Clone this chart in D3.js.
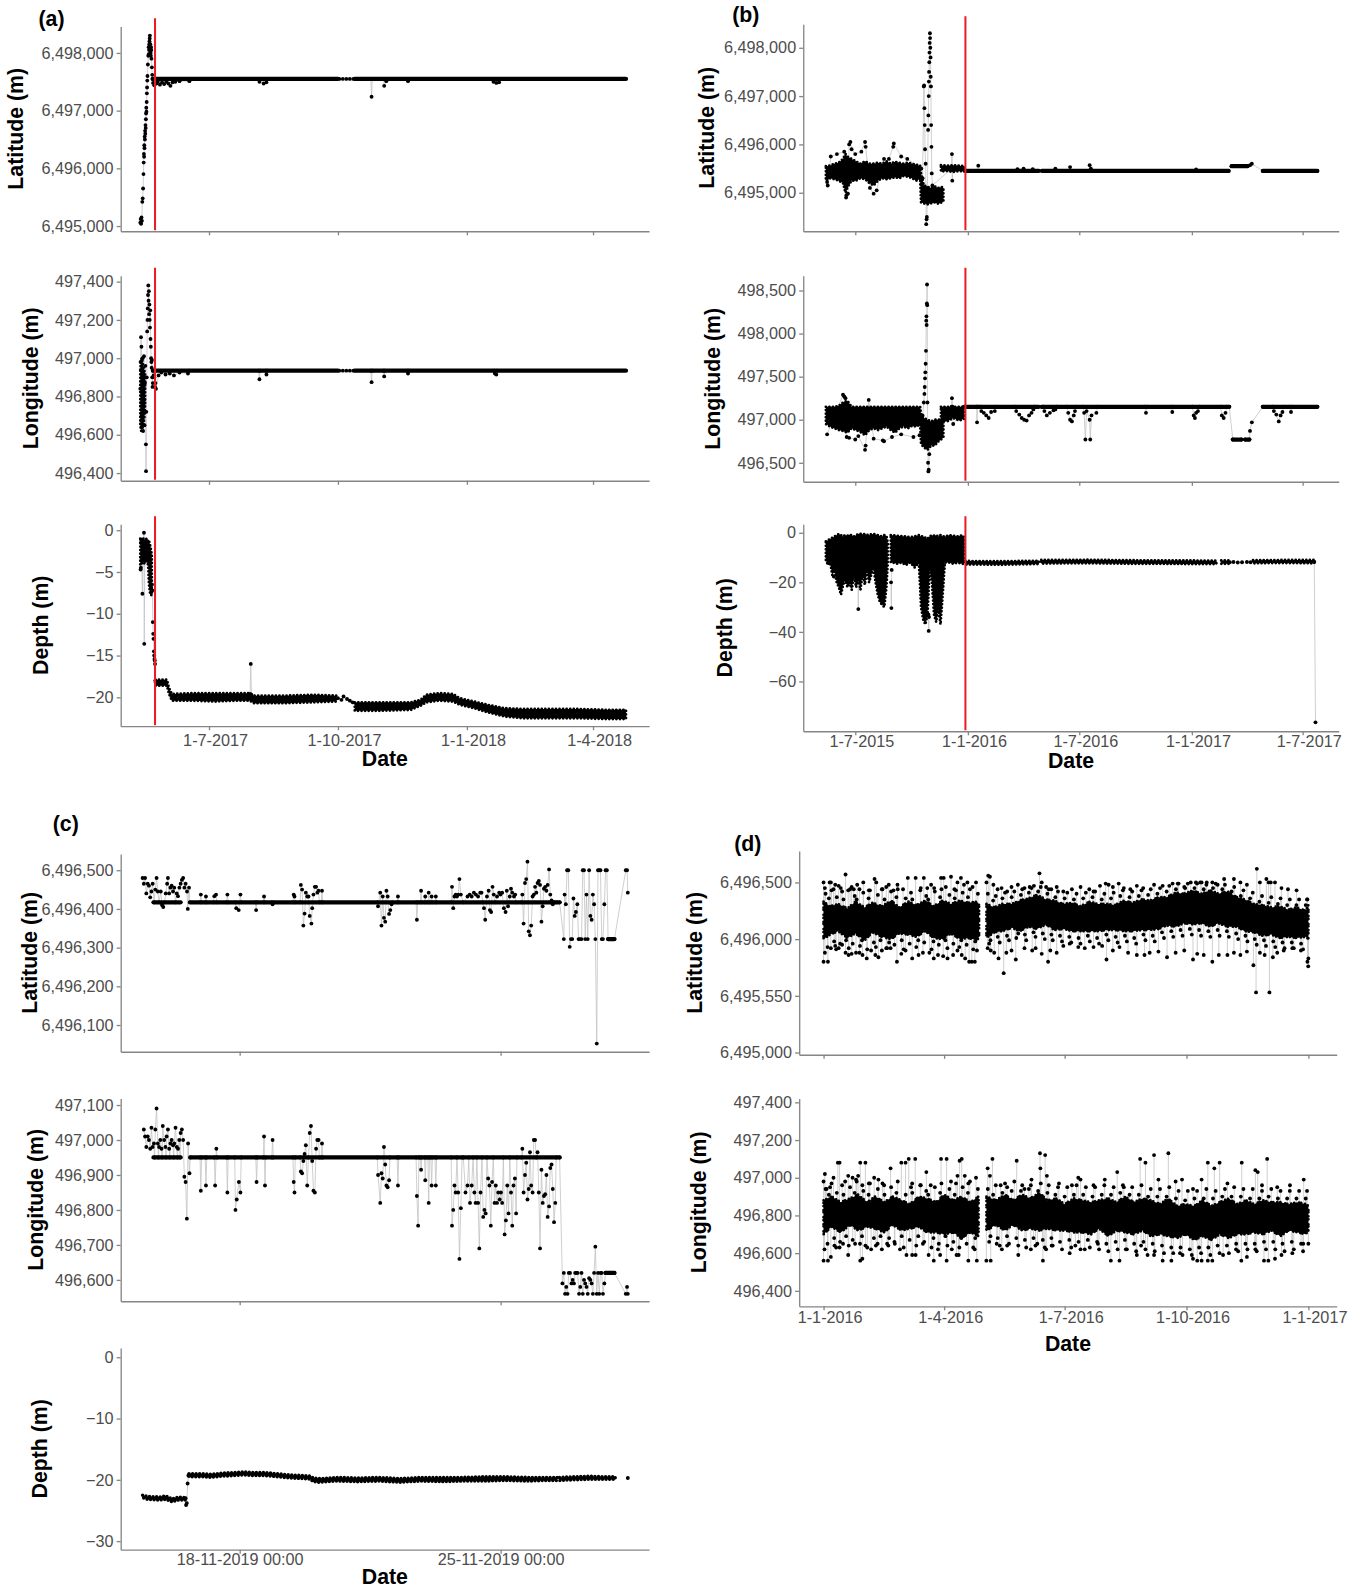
<!DOCTYPE html>
<html>
<head>
<meta charset="utf-8">
<script src="https://cdn.jsdelivr.net/npm/d3@7"></script>
<style>
  body { margin: 0; background: #fff; }
  svg { display: block; }
</style>
</head>
<body>
<script>
const W = 1352, H = 1589;
const DAY = 864e5, HOUR = 36e5;
const FONT = '"Liberation Sans", Arial, Helvetica, sans-serif';
const AXIS = '#858585';
const TICK_TEXT = '#4d4d4d';
const LINE_GREY = '#c4c4c4';
const RED = '#ec1c24';
const LAYOUT_SCALE = 1.0142;

// ---------- panel (a): days since 1 May 2017 ----------
const A_BASE = '2017-05-01T00:00:00';
const A_XDOM = [-2, 375];
const A_TICKS = ['2017-07-01T00:00:00', '2017-10-01T00:00:00', '2018-01-01T00:00:00', '2018-04-01T00:00:00'];
const A_TICK_LABELS = ['1-7-2017', '1-10-2017', '1-1-2018', '1-4-2018'];
const A_RED = 22.5;

const aLatTrack = [
  [12.0,6495060],[12.28,6495120],[12.57,6495040],[12.85,6495150],[13.14,6495090],[13.42,6495420],[13.7,6495480],
  [13.99,6495650],[14.27,6495900],[14.41,6496100],[14.56,6496250],[14.7,6496200],[14.84,6496400],[14.98,6496350],
  [15.12,6496550],[15.27,6496500],[15.41,6496650],[15.55,6496600],[15.69,6496750],[15.83,6496700],[15.98,6496850],
  [16.12,6496950],[16.26,6497050],[16.4,6496980],[16.54,6497150],[16.69,6497300],[16.83,6497400],[16.97,6497520],
  [17.11,6497600],[17.4,6497800],[17.68,6497950],[17.96,6498100],[18.0,6497980],[18.25,6498050],[18.4,6498150],
  [18.53,6498200],[18.7,6498250],[18.82,6498300],[19.1,6498150],[19.2,6498050],[19.38,6498000],[19.5,6497950],
  [19.67,6498100],[19.8,6498050],[19.95,6497900],[20.24,6497750],[20.52,6497620],[20.8,6497550],[21.09,6497480],
  [21.37,6497550],[21.94,6497440],[22.51,6497500],
  [23.5,6497470],[24.5,6497500],[26,6497450],[27.5,6497490],[29,6497460],[30.5,6497500],[32,6497470],[33.5,6497430],
  [35,6497490],[37,6497500],[40,6497510],[47,6497510],[48,6497550],
  [96.5,6497550],[97,6497500],[100,6497470],[102,6497490],[102.5,6497550],
  [154,6497550],[156.5,6497550],[159,6497550],[161.5,6497550],[164,6497550],
  [176.5,6497550],[177,6497240],[177.5,6497550],
  [185.5,6497550],[186,6497430],[187.5,6497510],[188,6497550],
  [202.5,6497550],[203,6497510],[203.5,6497550],
  [263.5,6497550],[264,6497500],[266,6497480],[268,6497490],[268.5,6497550]
];
const aLatFlat = [[20.8, 153, 6497550], [165, 358.5, 6497550]];

const aLonTrack = [
  [12.0,496840],[12.2,496980],[12.5,497110],[12.8,497060],[13.0,496700],[13.3,496900],[13.6,497000],[14.0,496620],
  [14.3,496780],[14.6,497010],[15.0,496650],[15.3,496870],[15.6,496960],[16.0,496550],[16.1,496410],[16.3,496720],
  [16.6,496900],[16.9,497140],[17.1,497200],[17.3,497260],[17.5,497330],[17.7,497380],[17.9,497300],[18.1,497350],
  [18.3,497230],[18.5,497280],[18.7,497200],[18.9,497160],[19.1,497250],[19.3,497100],[19.5,497060],[19.7,497000],
  [19.9,496980],[20.1,496950],[20.3,496990],[20.5,496900],[20.7,496850],[20.9,496870],[21.1,496935],[21.5,496910],
  [22,496900],[22.5,496850],[22.8,496870],[23.2,496840],[25,496910],[27,496925],[30,496915],[33,496920],[36,496910],
  [40,496925],[46,496920],[47,496935],
  [96.5,496935],[97,496890],[97.5,496935],[101.5,496935],[102,496915],[102.5,496935],
  [154,496935],[156.5,496935],[159,496935],[161.5,496935],[164,496935],
  [176.5,496935],[177,496875],[177.5,496935],[185.5,496935],[186,496905],[186.5,496935],
  [202.5,496935],[203,496920],[203.5,496935],[264.5,496935],[265,496920],[266,496915],[266.5,496935]
];
const aLonBand = [[12.0,496650,496940],[12.6,496620,496990],[13.2,496630,497000],[13.8,496640,496970],
  [14.4,496660,496950],[15.0,496700,496930],[15.4,496760,496920]];
const aLonFlat = [[21, 153, 496935], [165, 358.5, 496935]];

const aDepthTrack = [
  [12.2,-4.7],[12.4,-4.5],[12.6,-1.5],[13.5,-7.6],[13.8,-2.5],[14.6,-0.3],[14.8,-13.6],[15.2,-3.0],[16.5,-2.0],
  [17.0,-1.3],[18.5,-4.0],[19.5,-6.8],[20.0,-7.4],[20.3,-6.5],[20.6,-7.2],[20.9,-11.0],[21.2,-12.4],[21.4,-13.0],
  [21.7,-14.5],[21.9,-15.0],[22.1,-15.4],[22.3,-15.6],[22.5,-16.0],[22.7,-18.0],[23,-18.2], null,
  [90.3,-19.6],[90.8,-16.0],[91.3,-19.7], null,
  [153,-20.1],[155.5,-20.3],[157,-19.9],[159.5,-20.2],[161.5,-20.4],[163.5,-20.6]
];
const aDepthBand = [
  [12.0,-4.2,-1.0],[13.0,-4.0,-0.9],[14.0,-3.8,-1.0],[15.0,-4.0,-1.1],[16.0,-3.7,-1.0],[17.0,-3.9,-1.2],
  [17.6,-4.2,-1.5],[18.2,-6.5,-1.3],[19.0,-7.6,-1.8],[19.8,-7.8,-2.5],[20.2,-7.0,-3.0], null,
  [22.8,-18.6,-17.9],[31,-18.6,-17.9],[32.5,-19.6,-18.9],[34.5,-20.4,-19.6],[50,-20.4,-19.5],[65,-20.5,-19.5],
  [80,-20.4,-19.5],[90,-20.4,-19.5],[93,-20.7,-19.8],[115,-20.7,-19.8],[135,-20.6,-19.7],[152,-20.5,-19.8], null,
  [165,-21.6,-20.6],[185,-21.6,-20.6],[205,-21.5,-20.6],[212,-21.0,-20.3],[216,-20.6,-19.7],[225,-20.4,-19.5],
  [235,-20.5,-19.6],[240,-20.9,-20.1],[250,-21.3,-20.5],[260,-21.8,-20.9],[272,-22.3,-21.3],[285,-22.5,-21.4],
  [305,-22.5,-21.4],[325,-22.5,-21.4],[345,-22.6,-21.5],[358.5,-22.6,-21.5]
];

// ---------- panel (b): days since 1 July 2015 ----------
const B_BASE = '2015-07-01T00:00:00';
const B_XDOM = [-85, 790];
const B_TICKS = ['2015-07-01T00:00:00', '2016-01-01T00:00:00', '2016-07-01T00:00:00', '2017-01-01T00:00:00', '2017-07-01T00:00:00'];
const B_TICK_LABELS = ['1-7-2015', '1-1-2016', '1-7-2016', '1-1-2017', '1-7-2017'];
const B_RED = 180;

const bLatBand = [
  [-48,6495250,6495550],[-41,6495300,6495560],[-34,6495280,6495600],[-27,6495250,6495620],[-20,6495200,6495700],
  [-16,6495000,6495800],[-13,6495100,6495750],[-6,6495250,6495700],[1,6495250,6495650],[8,6495300,6495600],
  [16,6495280,6495650],[23,6495200,6495600],[30,6495150,6495600],[37,6495250,6495620],[44,6495300,6495600],
  [51,6495280,6495650],[58,6495300,6495600],[65,6495320,6495640],[72,6495300,6495620],[79,6495350,6495600],
  [86,6495330,6495620],[93,6495300,6495600],[100,6495250,6495580],[106,6495300,6495560],
  [107.5,6494800,6495400],[112,6494780,6495150],[118,6494760,6495120],[124,6494780,6495100],[130,6494800,6495130],
  [136,6494770,6495100],[141,6494800,6495120],[144,6494820,6495100], null,
  [140,6495440,6495570],[150,6495450,6495560],[160,6495430,6495570],[170,6495450,6495560],[178,6495440,6495550]
];
const bLatTrack = [
  [-46,6495220],[-45,6495150],[-40,6495750],[-30,6495800],[-18,6495850],[-15,6494900],[-14.5,6494950],[-12,6494980],
  [-10,6496000],[-8,6496050],[-6,6495900],[0,6495800],[10,6495850],[16,6496050],[17,6495950],[24,6495100],
  [30,6494980],[35,6495050],[47,6495700],[55,6495700],[62,6495950],[63,6496020],[75,6495750],[85,6495700],
  [108,6495500],[110,6495300],[112,6497200],[112.5,6497220],[113,6496750],[113.5,6496400],[114,6495900],[115,6495600],
  [116,6494350],[116.5,6494450],[117,6494500],[118,6495100],[119,6496300],[119.5,6496600],[120,6497000],[120.3,6497300],
  [120.6,6497500],[121,6497700],[121.3,6497900],[121.6,6498100],[122,6498300],[122.3,6498200],[122.6,6498000],
  [123,6497800],[123.3,6497400],[123.6,6497200],[124,6496400],[124.5,6495950],[125,6495400],[126,6495150],
  [157.5,6495500],[158,6495800],[158.5,6495250],[159,6495500],
  [180,6495450],[200.5,6495450],[201,6495560],[201.5,6495450],[264.5,6495450],[265,6495490],[265.5,6495450],
  [274.5,6495450],[275,6495500],[275.5,6495450],[289.5,6495450],[290,6495490],[290.5,6495450],
  [326.5,6495450],[327,6495500],[327.5,6495450],[350.5,6495450],[351,6495530],[351.5,6495450],
  [382.5,6495450],[383,6495570],[385,6495500],[385.5,6495450],[556.5,6495450],[557,6495480],[557.5,6495450],
  [610,6495450],[615,6495550],[641,6495550],[645,6495570],[648,6495600],[666,6495450],[755,6495450]
];
const bLatFlat = [[180, 300, 6495450], [305, 610, 6495450], [615, 641, 6495550], [666, 755, 6495450]];

const bLonBand = [
  [-48,496950,497150],[-41,496920,497150],[-34,496900,497150],[-27,496880,497160],[-20,496870,497200],
  [-13,496850,497220],[-6,496900,497150],[1,496880,497150],[8,496860,497150],[16,496820,497150],[23,496880,497150],
  [30,496900,497150],[37,496880,497150],[44,496900,497150],[51,496920,497150],[58,496880,497150],[65,496850,497150],
  [72,496900,497150],[79,496920,497150],[86,496900,497150],[93,496930,497150],[100,496920,497150],[106,496950,497150],
  [107.5,496720,497050],[112,496680,497020],[118,496650,497000],[124,496700,496980],[130,496700,497000],
  [136,496750,497000],[142,496780,497000],[144,496800,497000], null,
  [140,497000,497150],[150,496980,497150],[160,497020,497150],[170,496990,497150],[178,497010,497150]
];
const bLonTrack = [
  [-46,496830],[-20,497290],[-18,497270],[-16,497250],[-14,496800],[-10,496790],[0,496770],[5,496810],[16,496650],
  [17,496700],[22,497230],[30,496780],[45,496760],[47,496750],[60,496800],[75,496830],[95,496800],[105,496820],
  [110,497050],[112,497200],[113,497300],[113.5,497380],[114,497480],[114.5,497550],[115,497650],[115.5,497800],
  [116,498150],[116.3,498200],[116.6,498100],[117,498350],[117.3,498570],[117.6,498330],[118,497200],[118.5,496900],
  [119,496500],[119.5,496400],[120,496420],[121,496600],[122,496800],
  [157.5,497150],[158,497250],[159,497150],[160,496950],
  [178,497150],[198.5,497150],[199,496970],[199.5,497150],
  [204,497150],[206,497100],[210,497080],[214,497050],[218,497020],[222,497090],[228,497100],[230,497150],
  [261,497150],[263,497100],[268,497060],[272,497020],[276,497000],[280,496990],[284,497050],[288,497080],[291,497120],[293,497150],
  [307,497150],[309,497100],[313,497050],[318,497080],[324,497110],[327,497120],[329,497150],
  [346,497150],[348,497080],[351,497000],[354,496980],[357,497050],[359,497100],[361,497150],
  [372,497150],[374,497080],[376,496770],[378,497100],[383,497000],[384,496770],[386,497050],[394,497080],[396,497150],
  [473,497150],[475,497080],[477,497150],[516,497150],[518,497090],[520,497150],
  [551,497150],[553,497050],[555,497020],[557,497080],[560,497100],[562,497150],
  [597,497150],[599,497050],[602,497020],[605,497080],[607,497150],
  [611,497150],[617,496770],[631,496770],[637,496770],[644,496770],[645,496870],[648,496970],[666,497150],
  [682,497150],[684,497100],[688,497060],[692,496980],[695,497050],[698,497090],[700,497150],
  [710,497150],[712,497090],[714,497150],[755,497150]
];
const bLonFlat = [[178, 300, 497150], [304, 611, 497150], [617, 631, 496770], [637, 644, 496770], [666, 755, 497150]];

const bDepthBand = [
  [-48,-11,-3.5],[-44.6,-13,-3],[-41,-12,-2.5],[-37.5,-17,-2],[-34,-15,-1.5],[-30.4,-20,-1],[-26.9,-22,-0.5],
  [-23.3,-25,-1],[-19.8,-21,-1.5],[-16.3,-19,-1],[-12.7,-22,-1.2],[-9.2,-20,-0.8],[-5.7,-23,-1],[-2.1,-17,-1.5],
  [1.4,-22,-1],[5,-19,-0.5],[8.5,-23,-0.4],[12,-16,-0.6],[15.6,-21,-0.5],[19.1,-15,-0.8],[22.6,-20,-1],
  [26.2,-17,-0.6],[29.7,-14,-0.5],[33.2,-20,-0.7],[36.8,-25,-1],[40.3,-28,-1.2],[43.8,-29,-1.5],[47.4,-30,-1],
  [50.9,-22,-1.3],[53,-12.5,-4], null,
  [58,-12,-1],[61.5,-12,-1],[68.6,-12.5,-1.2],[75.7,-12,-1.4],[82.7,-13,-1.5],[89.8,-12,-1.8],[96.9,-14,-1.5],
  [104,-12,-1],[107.5,-30,-1.5],[111,-35,-1.5],[114.6,-37,-2],[118.1,-33,-2.5],[121.6,-14,-1.5],[125.2,-20,-1],
  [128.7,-33,-1.2],[132.2,-36,-1],[135.8,-30,-1.5],[139.3,-37,-1],[142.9,-25,-1.5],[146.4,-12,-1.5],
  [153.5,-12,-1],[160.5,-12.5,-1.2],[167.6,-12,-1.5],[174.7,-12.5,-1],[178.2,-12.5,-2], null,
  [180,-12.8,-11.4],[240,-12.9,-11.5],[300,-12.6,-11.3], null,
  [304,-12.4,-11.0],[380,-12.3,-10.9],[450,-12.5,-11.1],[550,-12.6,-11.2],[590,-12.6,-11.3], null,
  [598,-12.5,-11.2],[610,-12.5,-11.2], null,
  [650,-12.3,-11.1],[700,-12.2,-11.0],[750,-12.3,-11.0]
];
const bDepthTrack = [
  [-36,-12],[-35,-17.7],[-34,-12], null,
  [4.5,-19],[5,-30.8],[5.5,-18], null,
  [58.5,-20],[59,-30.4],[59.5,-15], null,
  [119.5,-33],[120,-39.6],[120.5,-34], null,
  [612,-11.9],[618,-11.8],[625,-12.0],[632,-11.9],[640,-11.8],[646,-11.9], null,
  [750,-11.7],[752,-76.5]
];

// ---------- panel (c): hours since 15 Nov 2019 00:00 ----------
const C_BASE = '2019-11-15T00:00:00';
const C_XDOM = [-4.6, 335.6];
const C_TICKS = ['2019-11-18T00:00:00', '2019-11-25T00:00:00'];
const C_TICK_LABELS = ['18-11-2019 00:00', '25-11-2019 00:00'];

const cLatTrack = [
  [9.5,6496480],[10.3,6496465],[11.1,6496480],[11.9,6496440],[12.8,6496465],[13.6,6496460],[14.4,6496430],
  [15.2,6496445],[16.0,6496465],[16.9,6496417],[17.7,6496450],[18.5,6496480],[19.3,6496445],[20.1,6496417],
  [21.2,6496445],[22.0,6496410],[22.8,6496405],[23.6,6496417],[24.4,6496440],[25.3,6496465],[25.8,6496480],
  [26.6,6496440],[27.4,6496455],[28.2,6496460],[29.1,6496445],[29.9,6496455],[30.7,6496417],[31.5,6496440],
  [32.3,6496433],[33.2,6496455],[34.0,6496465],[34.8,6496475],[35.6,6496480],[36.4,6496455],[37.2,6496465],
  [38.1,6496445],[38.6,6496400],[39.4,6496455],[40.0,6496417],
  [46.5,6496417],[47.0,6496437],[47.5,6496417],[49.8,6496417],[50.3,6496432],[50.8,6496417],
  [55.2,6496417],[55.7,6496433],[56.8,6496437],[57.3,6496417],[63.6,6496417],[64.1,6496437],[64.6,6496417],
  [69.3,6496417],[69.8,6496402],[71.4,6496397],[72.5,6496437],[73.0,6496417],
  [82.1,6496417],[82.6,6496397],[83.1,6496417],[87.2,6496417],[87.7,6496432],[88.2,6496417],
  [92.7,6496417],[93.2,6496412],[93.7,6496417],[106.3,6496417],[106.8,6496437],[107.3,6496432],[107.8,6496417],
  [110.9,6496417],[111.4,6496462],[112.2,6496450],[113.0,6496357],[113.8,6496388],[114.6,6496442],[115.5,6496432],
  [116.3,6496432],[117.1,6496382],[118.2,6496362],[118.7,6496402],[119.5,6496437],[120.4,6496457],[121.2,6496457],
  [122.0,6496442],[122.8,6496447],[123.3,6496417],[124.5,6496417],[125.0,6496447],[125.5,6496417],
  [160.6,6496417],[161.1,6496407],[162.5,6496442],[163.3,6496357],[164.1,6496432],[164.9,6496377],[165.7,6496367],
  [166.5,6496447],[167.3,6496432],[168.2,6496387],[169.0,6496397],[169.8,6496412],[170.3,6496417],
  [173.4,6496417],[173.9,6496432],[174.4,6496417],[185.6,6496417],[186.1,6496372],[186.6,6496417],
  [188.3,6496417],[188.8,6496447],[189.3,6496417],[191.0,6496417],[191.5,6496432],[192.0,6496417],
  [193.2,6496417],[193.7,6496442],[194.2,6496417],[195.1,6496417],[195.6,6496432],[196.1,6496417],
  [197.8,6496417],[198.3,6496432],[198.8,6496417],
  [208.2,6496417],[208.7,6496457],[209.5,6496402],[210.3,6496432],[211.1,6496437],[211.9,6496432],[212.7,6496437],
  [213.5,6496477],[214.4,6496437],[216.0,6496417],[218.7,6496432],[220.1,6496437],[221.4,6496432],[222.8,6496442],
  [224.1,6496437],[225.5,6496432],[226.9,6496442],[227.7,6496442],[228.5,6496417],[229.3,6496402],[230.1,6496372],
  [231.2,6496432],[232.3,6496447],[233.1,6496397],[233.9,6496392],[234.8,6496457],[235.6,6496437],[236.4,6496417],
  [237.7,6496432],[239.1,6496442],[239.9,6496437],[241.0,6496442],[242.1,6496402],[243.2,6496392],[244.0,6496447],
  [244.8,6496407],[245.9,6496432],[246.7,6496452],[247.5,6496442],[248.6,6496432],[249.4,6496437],[249.9,6496417],
  [253.5,6496417],[254.0,6496437],[254.8,6496362],[255.7,6496467],[256.5,6496477],[257.3,6496522],[258.1,6496342],
  [258.9,6496332],[259.7,6496357],[260.6,6496432],[261.4,6496437],[262.2,6496457],[263.0,6496442],[263.8,6496467],
  [264.6,6496472],[265.4,6496462],[266.3,6496367],[267.1,6496407],[267.9,6496452],[268.7,6496457],[269.5,6496447],
  [270.3,6496462],[271.2,6496502],[272.0,6496437],[272.8,6496422],[273.6,6496412],[274.4,6496417],[275.8,6496417],
  [278.0,6496417],
  [280.7,6496322],[281.2,6496437],[282.0,6496412],[282.8,6496500],[283.6,6496500],[284.5,6496302],[285.3,6496322],
  [286.1,6496322],[286.9,6496427],[287.7,6496382],[288.5,6496392],[289.4,6496412],[290.2,6496322],[291.0,6496322],
  [292.1,6496322],[292.9,6496500],[293.7,6496500],[294.5,6496322],[295.3,6496437],[296.1,6496322],[297.0,6496500],
  [297.8,6496382],[298.6,6496372],[299.4,6496437],[300.2,6496412],[301.0,6496322],[301.9,6496052],[302.7,6496500],
  [303.5,6496500],[304.3,6496500],[305.1,6496322],[305.9,6496322],[306.8,6496412],[307.6,6496500],[308.4,6496500],
  [309.2,6496322],[310.0,6496322],[310.8,6496322],[311.7,6496322],[312.5,6496322],[313.3,6496322],
  [320.6,6496500],[321.4,6496500],[321.9,6496442]
];
const cLatFlat = [[16.5, 34, 6496417], [40, 278, 6496417], [309.2, 313.3, 6496322]];

const cLonTrack = [
  [10.3,497030],[11.1,497010],[11.9,496980],[12.8,497010],[13.6,497000],[14.4,496975],[15.2,497035],[16.0,496980],
  [16.8,496990],[17.2,496950],[17.7,497030],[18.5,497090],[19.3,496990],[19.7,496950],[20.1,496980],[20.9,497000],
  [21.7,496975],[22.1,496950],[22.5,497040],[23.4,497000],[24.2,496980],[24.6,496950],[25.0,497010],[25.8,497030],
  [26.6,496975],[27.0,496950],[27.4,496990],[28.2,497000],[29.1,496985],[29.5,496950],[29.9,496990],[30.7,497035],
  [31.5,496980],[31.9,496950],[32.3,496975],[33.1,497000],[33.6,496950],[34.0,497020],[34.8,497030],[35.6,497000],
  [36.4,496895],[37.2,496880],[38.0,496775],[38.8,496990],[39.7,496905],[40.2,496950],
  [46.5,496950],[47.0,496855],[47.5,496950],[49.8,496950],[50.3,496870],[50.8,496950],
  [55.7,496950],[56.2,496870],[57.0,496975],[57.5,496950],[63.6,496950],[64.1,496850],[64.6,496950],
  [68.8,496950],[69.3,496800],[70.1,496830],[71.5,496880],[72.5,496850],[73.0,496950],
  [82.4,496950],[82.9,496880],[83.4,496950],[87.2,496950],[87.7,497010],[88.3,496870],[88.8,496950],
  [92.7,496950],[93.2,497000],[93.7,496950],[106.3,496950],[106.8,496880],[107.3,496850],[107.8,496950],
  [110.9,496950],[111.4,496910],[112.2,496905],[113.0,496940],[113.8,496960],[114.6,496985],[115.5,496870],
  [116.3,496950],[117.1,497020],[117.9,497040],[118.7,496940],[119.5,496855],[120.4,496850],[121.2,496975],
  [122.0,497000],[122.8,497000],[123.3,496950],[124.5,496950],[125.0,496990],[125.5,496950],
  [160.6,496950],[161.1,496900],[162.5,496820],[163.3,496905],[164.1,496890],[164.9,496980],[165.7,496930],
  [166.5,496870],[167.3,496865],[168.2,496885],[168.7,496950],
  [173.4,496950],[173.9,496870],[174.4,496950],[185.6,496950],[186.1,496840],[186.9,496755],[187.4,496950],
  [188.3,496950],[188.8,496915],[189.3,496950],[191.0,496950],[191.5,496885],[192.0,496950],
  [193.2,496950],[193.7,496820],[194.2,496950],[195.1,496950],[195.6,496870],[196.1,496950],
  [197.8,496950],[198.3,496870],[198.8,496950],
  [208.2,496950],[208.7,496755],[209.5,496800],[210.3,496870],[211.1,496850],[211.9,496950],[212.7,496850],
  [213.5,496660],[214.4,496805],[215.2,496950],[216.0,496950],[217.4,496850],[218.7,496870],[219.5,496950],
  [220.3,496820],[221.4,496870],[222.3,496950],[223.1,496850],[223.9,496820],[224.7,496950],[225.5,496820],
  [226.3,496690],[227.1,496850],[228.0,496950],[228.8,496780],[229.6,496800],[230.4,496790],[231.2,496950],
  [232.0,496890],[232.8,496870],[233.7,496755],[234.5,496880],[235.3,496950],[236.1,496820],[236.9,496870],
  [237.7,496820],[238.5,496850],[239.4,496830],[240.2,496850],[241.0,496820],[241.8,496950],[242.6,496730],
  [243.4,496770],[244.3,496870],[245.1,496790],[245.9,496950],[246.7,496850],[247.5,496755],[248.3,496870],
  [249.2,496890],[250.0,496790],[250.5,496950],
  [253.5,496950],[254.0,496975],[254.8,496850],[255.7,496900],[256.5,496935],[257.3,496830],[258.1,496860],
  [258.9,496965],[259.7,496870],[260.6,496850],[261.4,497000],[262.2,497000],[263.0,496950],[263.8,496965],
  [264.6,496850],[265.4,496690],[266.3,496915],[267.1,496820],[267.9,496840],[268.7,496845],[269.5,496900],
  [270.3,496780],[271.2,496810],[272.0,496920],[272.8,496930],[273.6,496860],[274.4,496765],[275.2,496820],
  [275.8,496950],[278.0,496950],
  [279.8,496590],[280.7,496620],[281.5,496560],[282.3,496580],[283.1,496560],[283.9,496620],[284.7,496620],
  [285.6,496590],[286.4,496600],[287.2,496590],[288.0,496620],[288.8,496620],[289.6,496620],[290.5,496560],
  [291.3,496580],[292.1,496620],[292.9,496560],[293.7,496600],[294.5,496590],[295.3,496580],[296.1,496560],
  [297.0,496605],[297.8,496600],[298.6,496590],[299.4,496560],[300.2,496620],[301.0,496695],[301.9,496560],
  [302.7,496620],[303.5,496560],[304.3,496620],[305.1,496620],[305.9,496560],[306.8,496590],[307.6,496620],
  [308.4,496620],[309.2,496620],[310.0,496620],[310.8,496620],[311.7,496620],[312.5,496620],[313.3,496620],
  [320.6,496560],[321.4,496580],[321.9,496560]
];
const cLonFlat = [[16.5, 34, 496950], [40.2, 278, 496950], [307.6, 313.3, 496620]];

const cDepthBand = [
  [9.5,-22.9,-22.5],[12.8,-23.2,-22.7],[20.4,-23.3,-22.8],[24.4,-23.2,-22.6],[28.5,-23.6,-23.1],[32.6,-23.3,-22.8],
  [36.9,-23.3,-22.9], null,
  [39.4,-19.5,-19.0],[47.5,-19.5,-19.0],[53.0,-19.6,-19.1],[61.1,-19.4,-18.9],[69.3,-19.3,-18.8],[74.7,-19.2,-18.7],
  [80.2,-19.3,-18.8],[88.3,-19.3,-18.8],[96.4,-19.5,-19.0],[104.6,-19.7,-19.2],[112.8,-19.8,-19.3],[117.6,-19.9,-19.4],
  [119.3,-20.3,-19.7],[123.6,-20.4,-19.8],[134.5,-20.2,-19.6],[148.1,-20.3,-19.7],[161.7,-20.2,-19.6],
  [175.2,-20.4,-19.8],[188.8,-20.2,-19.6],[202.4,-20.3,-19.6],[216.0,-20.2,-19.6],[229.6,-20.2,-19.5],
  [243.2,-20.1,-19.5],[256.7,-20.2,-19.6],[270.3,-20.1,-19.6],[276.3,-20.1,-19.6], null,
  [277.9,-20.1,-19.6],[286.6,-20.0,-19.5],[297.5,-19.9,-19.4],[305.7,-19.9,-19.5],[313.8,-19.9,-19.5]
];
const cDepthTrack = [[37.2,-23.0],[37.5,-24.1],[38.0,-23.8],[38.5,-20.6],[39.0,-19.3],[39.4,-19.2], null, [321.9,-19.7]];

// ---------- panel (d): days since 1 Jan 2016 ----------
const D_BASE = '2016-01-01T00:00:00';
const D_XDOM = [-18.4, 387.4];
const D_TICKS = ['2016-01-01T00:00:00', '2016-04-01T00:00:00', '2016-07-01T00:00:00', '2016-10-01T00:00:00', '2017-01-01T00:00:00'];
const D_TICK_LABELS = ['1-1-2016', '1-4-2016', '1-7-2016', '1-10-2016', '1-1-2017'];
const D_LAT_TICKS = [6495000, 6495500, 6496000, 6496500];
const D_LAT_LABELS = ['6,495,000', '6,495,550', '6,496,000', '6,496,500'];

const dLatBand = [
  [0,6496000,6496330],[5,6496040,6496290],[11,6496070,6496310],[18,6496010,6496270],[24,6496050,6496330],
  [31,6495990,6496280],[37,6496060,6496320],[44,6496020,6496290],[51,6496000,6496340],[57,6496050,6496280],
  [64,6496040,6496330],[70,6496020,6496300],[77,6496070,6496340],[83,6496010,6496290],[90,6496000,6496340],
  [96,6496050,6496310],[103,6496000,6496340],[109,6496010,6496320],[116,6495990,6496330],[117.4,6496020,6496300], null,
  [123,6496010,6496310],[129,6496060,6496280],[135,6496070,6496310],[142,6496100,6496310],[148,6496070,6496340],
  [155,6496110,6496360],[161,6496090,6496390],[168,6496130,6496350],[174,6496080,6496340],[181,6496090,6496310],
  [188,6496070,6496320],[194,6496070,6496290],[201,6496070,6496330],[207,6496070,6496310],[214,6496080,6496310],
  [220,6496080,6496300],[227,6496070,6496340],[233,6496070,6496320],[240,6496080,6496350],[246,6496080,6496340],
  [253,6496090,6496370],[259,6496120,6496370],[266,6496110,6496410],[272,6496140,6496400],[279,6496130,6496430],
  [285,6496140,6496400],[292,6496110,6496430],[298,6496140,6496400],[305,6496110,6496420],[312,6496110,6496370],
  [318,6496070,6496350],[325,6496060,6496310],[331,6496030,6496300],[338,6496040,6496280],[344,6496010,6496290],
  [351,6496020,6496260],[357,6496010,6496280],[364,6496020,6496250],[366,6496000,6496300]
];
const dLatHigh = [
  [0,6496500],[1,6496450],[4.6,6496500],[5.5,6496500],[7.5,6496440],[8.8,6496480],[11.4,6496470],[13,6496450],
  [16.6,6496570],[18.6,6496430],[21.2,6496460],[22.8,6496440],[25.4,6496480],[27.1,6496440],[30,6496500],
  [34.2,6496430],[38.5,6496530],[39.8,6496500],[44,6496440],[47.3,6496460],[49.2,6496480],[52.8,6496430],
  [55.8,6496480],[60,6496440],[63.6,6496540],[69.5,6496540],[73.4,6496450],[75.7,6496540],[78.3,6496450],
  [81.2,6496480],[83.5,6496450],[88.7,6496540],[90.7,6496540],[92.3,6496460],[96.2,6496550],[98.8,6496440],
  [101.1,6496500],[103.7,6496540],[106,6496480],[108.6,6496500],[112.5,6496460],[115.1,6496500],
  [123,6496500],[124.3,6496560],[125.6,6496550],[128.2,6496480],[131.4,6496440],[134.4,6496450],[138.6,6496420],
  [141.9,6496460],[146.7,6496480],[151.7,6496450],[155.6,6496460],[158.8,6496470],[163,6496580],[164.7,6496500],
  [168,6496460],[171.9,6496440],[176,6496460],[181,6496420],[187.5,6496440],[194,6496460],[200.6,6496440],
  [203.8,6496420],[208.7,6496470],[213,6496490],[215.2,6496480],[218.4,6496460],[222.8,6496490],[226.7,6496450],
  [231.6,6496440],[236.5,6496470],[241.3,6496450],[249.5,6496480],[256,6496470],[263.5,6496490],[267.4,6496490],
  [272.3,6496460],[277.2,6496500],[281.1,6496500],[284.4,6496500],[285.4,6496500],[289.3,6496500],[293.5,6496500],
  [297.5,6496480],[302.4,6496530],[309.8,6496530],[314.7,6496500],[319.6,6496480],[327.1,6496620],[329.4,6496500],
  [334.3,6496530],[336,6496500],[337.6,6496500],[340.8,6496500],[345.7,6496450],[350.6,6496440],[357.1,6496430],
  [365.3,6496350]
];
const dLatLow = [
  [0,6495800],[1,6495880],[3.3,6495800],[5.5,6495920],[8.8,6495940],[11.4,6495920],[14,6495950],[16.6,6495880],
  [18.9,6495860],[21.2,6495870],[24.5,6495880],[27.1,6495880],[29.4,6495860],[32.6,6495830],[35.9,6495900],
  [39.1,6495860],[41.4,6495840],[44,6495900],[47.3,6495920],[50.6,6495920],[55.4,6495800],[58.7,6495870],
  [61.9,6495900],[66.9,6495830],[71.7,6495860],[75,6495880],[79.9,6495880],[83.2,6495830],[86.4,6495860],
  [90.3,6495850],[93.6,6495830],[97.8,6495860],[101.1,6495900],[104.3,6495860],[106.9,6495830],[109.9,6495800],
  [111.9,6495800],[114.2,6495800],[115.8,6495900],
  [123.9,6495920],[126.2,6495900],[128.8,6495880],[132.1,6495830],[136,6495700],[138,6495880],[141.9,6495900],
  [145.1,6495820],[151.7,6495920],[157.5,6495900],[160.1,6495920],[164.7,6495870],[169.5,6495800],[171.2,6495900],
  [176,6495880],[181,6495940],[185.8,6495960],[192.3,6495930],[197.2,6495920],[203.8,6495930],[210.3,6495940],
  [213.6,6495820],[218.4,6495900],[223.4,6495930],[229.9,6495880],[236.5,6495860],[242.3,6495860],[246.2,6495880],
  [252.8,6495890],[259.3,6495840],[265.8,6495880],[272.3,6495900],[278.9,6495820],[282.1,6495870],[287,6495860],
  [293.5,6495800],[298.4,6495860],[304.9,6495860],[309.8,6495880],[314.7,6495860],[319.6,6495890],[324.5,6495770],
  [326.5,6495530],[329.4,6495880],[333,6495860],[336.6,6495530],[339.2,6495840],[342.5,6495880],[347.4,6495900],
  [353.9,6495920],[360.4,6495900],[365.3,6495800],[365.9,6495760],[366,6495830]
];
const dLatFringe = [
  [1.5,6496400],[3,6495930],[4,6496360],[6,6496430],[8,6495980],[9.5,6495910],[10,6496370],[12.5,6495960],
  [14,6496420],[15,6496350],[17,6495990],[19,6495920],[20,6496440],[22,6495960],[23.5,6496380],[25,6496350],
  [27.5,6495940],[29,6495990],[30,6496410],[33,6495910],[34,6496360],[35,6496430],[38,6495970],[39.5,6495930],
  [41,6496390],[43,6495990],[44.5,6496440],[46,6496350],[48,6495920],[49.5,6495970],[51,6496420],[53.5,6495950],
  [55,6496370],[56,6496440],[59,6495990],[60.5,6495910],[62,6496360],[65,6495960],[66,6496410],[67,6496350],
  [70,6495930],[71.5,6495990],[73,6496430],[76,6495970],[77.5,6496380],[79,6496350],[81.5,6495910],[83,6495980],
  [84,6496420],[87,6495950],[88,6496370],[89,6496440],[92,6495990],[93.5,6495920],[95,6496390],[98,6495960],
  [99,6496360],[100,6496430],[102.5,6495930],[104,6495990],[105,6496410],[108,6495950],[109,6496370],
  [110.5,6496440],[113,6495910],[114.5,6495980],[116.5,6496400],
  [124,6496400],[125,6495960],[126,6495990],[128,6496340],[130,6496380],[131.5,6496020],[133,6495970],
  [135,6496360],[137,6496410],[138.5,6496030],[140,6495990],[142,6496370],[144,6496420],[145.5,6496010],
  [147,6496050],[149,6496390],[150,6496440],[152,6496040],[153,6495990],[155,6496410],[157,6496450],
  [158.5,6496060],[160,6496020],[162,6496420],[164,6496460],[165.5,6496050],[167,6496000],[169,6496400],
  [170,6496440],[172,6496040],[173,6495990],[175,6496370],[177,6496420],[178.5,6496030],[180,6495980],
  [182,6496360],[184,6496410],[185.5,6496020],[187,6495970],[189,6496350],[191,6496400],[192.5,6496010],
  [194,6495960],[196,6496360],[198,6496410],[199.5,6496030],[201,6495980],[203,6496370],[205,6496420],
  [206.5,6496010],[208,6495960],[210,6496350],[212,6496400],[213.5,6496040],[215,6495990],[217,6496360],
  [219,6496410],[220.5,6496020],[222,6495970],[224,6496380],[226,6496430],[227.5,6496030],[229,6495980],
  [231,6496370],[233,6496420],[234.5,6496010],[236,6495960],[238,6496380],[240,6496430],[241.5,6496040],
  [243,6495990],[245,6496390],[247,6496440],[248.5,6496030],[250,6495980],[252,6496400],[254,6496450],
  [255.5,6496060],[257,6496010],[259,6496420],[261,6496470],[262.5,6496070],[264,6496020],[266,6496440],
  [268,6496490],[269.5,6496080],[271,6496030],[273,6496450],[275,6496490],[276.5,6496090],[278,6496040],
  [280,6496450],[282,6496490],[283.5,6496080],[285,6496030],[287,6496440],[289,6496480],[290.5,6496070],
  [292,6496020],[294,6496450],[296,6496490],[297.5,6496080],[299,6496030],[301,6496440],[303,6496480],
  [304.5,6496070],[306,6496020],[308,6496420],[310,6496460],[311.5,6496050],[313,6496000],[315,6496380],
  [317,6496430],[318.5,6496030],[320,6495980],[322,6496360],[324,6496410],[325.5,6496000],[327,6495950],
  [329,6496330],[331,6496380],[332.5,6495990],[334,6495940],[336,6496320],[338,6496370],[339.5,6495980],
  [341,6495930],[343,6496310],[345,6496360],[346.5,6495970],[348,6495920],[350,6496300],[352,6496350],
  [353.5,6495970],[355,6495920],[357,6496300],[359,6496350],[360.5,6495960],[362,6495910],[364,6496300],
  [365,6496350]
];

const dLonBand = [
  [0,496700,496880],[6,496740,496900],[13,496710,496870],[20,496750,496890],[26,496720,496910],[33,496740,496870],
  [39,496730,496900],[46,496710,496870],[52,496750,496900],[59,496720,496880],[65,496730,496860],[72,496740,496900],
  [78,496710,496890],[85,496710,496870],[91,496700,496910],[98,496710,496880],[104,496680,496900],[111,496710,496870],
  [117,496690,496900], null,
  [123,496720,496900],[130,496750,496880],[137,496720,496910],[143,496750,496880],[150,496720,496910],
  [156,496730,496890],[163,496720,496920],[169,496730,496880],[176,496720,496890],[182,496720,496860],
  [189,496710,496890],[195,496710,496880],[202,496700,496870],[208,496730,496880],[215,496690,496890],
  [221,496720,496870],[228,496710,496900],[234,496700,496870],[241,496720,496890],[247,496690,496880],
  [254,496700,496860],[260,496690,496890],[267,496680,496850],[273,496700,496860],[280,496670,496850],
  [286,496690,496880],[293,496670,496850],[299,496700,496870],[306,496680,496890],[312,496700,496860],
  [319,496700,496880],[325,496710,496860],[332,496700,496880],[338,496720,496870],[345,496690,496870],
  [351,496720,496860],[358,496710,496870],[364,496700,496860],[366,496720,496850]
];
const dLonHigh = [
  [0,496980],[1,497020],[2.3,496940],[4.9,496950],[7.5,497000],[10.8,497080],[12.1,497080],[16.3,496980],
  [18.6,497010],[21.9,497000],[24.5,496990],[26.1,497010],[27.7,497080],[29.3,496960],[31.6,497080],[34.2,496970],
  [38.2,497000],[41.4,496990],[45.7,496960],[50.6,497050],[58.7,497080],[61.9,497080],[64.3,497100],[66.9,496970],
  [69.2,497100],[73.4,496960],[77.6,497030],[80.9,496960],[88.7,497100],[92.9,497100],[96.2,496980],[101.1,497010],
  [102.7,497090],[104.3,497100],[106.6,497010],[109.3,496970],[115.1,497000],
  [123.9,497050],[125.6,497010],[127.5,497100],[133.7,496960],[138.6,496950],[145.8,497090],[151.7,496940],
  [156.5,496960],[163.4,497130],[163.7,497050],[167.3,497120],[168.6,497010],[177.7,496970],[187.5,496960],
  [192.3,497000],[194,496990],[203.8,496960],[212.3,496990],[221.7,497030],[226.7,496950],[239,497100],
  [243,497080],[249.5,497120],[252.8,496990],[260.3,497130],[265.8,496980],[270.6,496990],[278.9,496940],
  [285.4,496990],[290.1,497080],[295,497050],[299,497080],[304.9,496970],[315.7,497080],[326,497040],
  [327.8,497030],[331,496960],[334.9,497100],[342.5,496950],[352.1,496960],[362.5,496990]
];
const dLonLow = [
  [0,496560],[0.7,496620],[3.3,496560],[5.5,496580],[8.2,496640],[12.1,496630],[14.7,496650],[18.6,496590],
  [23.8,496650],[27.7,496560],[29.3,496570],[31.6,496640],[35.9,496620],[40.8,496650],[44,496620],[48.9,496640],
  [53.8,496650],[57.7,496620],[62.6,496590],[66.9,496590],[69.5,496590],[75,496650],[79.3,496590],[83.2,496560],
  [86.4,496620],[88,496590],[92.9,496560],[96.8,496620],[100.4,496590],[102,496590],[109.3,496560],[114.1,496620],
  [115.7,496560],
  [122.9,496560],[126.2,496560],[130.7,496650],[134.6,496620],[138.6,496640],[147,496590],[156.5,496620],
  [161.4,496650],[165.6,496560],[168,496620],[172.2,496640],[185.8,496600],[190.1,496640],[197.2,496620],
  [207.1,496650],[216.9,496560],[223.4,496560],[228.2,496620],[236.5,496590],[239.7,496640],[244.6,496590],
  [249.5,496590],[256,496560],[262.6,496560],[269.1,496600],[278.9,496570],[282.1,496560],[285.4,496560],
  [290.1,496560],[293.5,496560],[301.6,496590],[311.4,496620],[315.4,496560],[319.6,496580],[326,496620],
  [332.5,496560],[335.8,496560],[340.8,496570],[345.7,496590],[353.9,496600],[362.1,496650],[366,496650]
];
const dLonFringe = [
  [1.5,496940],[3,496650],[4,496910],[6,496970],[8,496680],[9.5,496630],[10,496920],[12.5,496660],[14,496960],
  [15,496910],[17,496690],[19,496640],[20,496950],[22,496670],[23.5,496920],[25,496980],[27.5,496650],[29,496690],
  [30,496930],[33,496630],[34,496910],[35,496970],[38,496680],[39.5,496640],[41,496940],[43,496690],[44.5,496970],
  [46,496910],[48,496650],[49.5,496680],[51,496950],[53.5,496660],[55,496920],[56,496980],[59,496690],[60.5,496630],
  [62,496910],[65,496670],[66,496950],[67,496920],[70,496640],[71.5,496690],[73,496960],[76,496660],[77.5,496930],
  [79,496910],[81.5,496630],[83,496680],[84,496950],[87,496650],[88,496920],[89,496970],[92,496690],[93.5,496640],
  [95,496940],[98,496660],[99,496910],[100,496970],[102.5,496630],[104,496680],[105,496950],[108,496650],
  [109,496920],[110.5,496980],[113,496630],[114.5,496680],[116.5,496940],
  [124,496940],[125,496660],[126,496690],[128,496910],[130,496960],[131.5,496680],[133,496640],[135,496920],
  [137,496970],[138.5,496690],[140,496650],[142,496930],[144,496980],[145.5,496680],[147,496640],[149,496930],
  [150,496960],[152,496670],[153,496630],[155,496940],[157,496990],[158.5,496680],[160,496640],[162,496930],
  [164,496970],[165.5,496670],[167,496630],[169,496920],[170,496960],[172,496680],[173,496640],[175,496910],
  [177,496950],[178.5,496660],[180,496620],[182,496900],[184,496950],[185.5,496670],[187,496630],[189,496910],
  [191,496960],[192.5,496660],[194,496620],[196,496910],[198,496950],[199.5,496670],[201,496630],[203,496900],
  [205,496950],[206.5,496660],[208,496620],[210,496910],[212,496960],[213.5,496650],[215,496610],[217,496910],
  [219,496950],[220.5,496660],[222,496620],[224,496920],[226,496960],[227.5,496670],[229,496620],[231,496910],
  [233,496950],[234.5,496650],[236,496610],[238,496910],[240,496960],[241.5,496660],[243,496620],[245,496900],
  [247,496940],[248.5,496650],[250,496610],[252,496900],[254,496940],[255.5,496640],[257,496600],[259,496900],
  [261,496950],[262.5,496630],[264,496600],[266,496890],[268,496930],[269.5,496630],[271,496590],[273,496880],
  [275,496930],[276.5,496620],[278,496590],[280,496890],[282,496930],[283.5,496630],[285,496600],[287,496890],
  [289,496940],[290.5,496630],[292,496590],[294,496890],[296,496930],[297.5,496640],[299,496600],[301,496900],
  [303,496940],[304.5,496640],[306,496600],[308,496900],[310,496950],[311.5,496650],[313,496610],[315,496900],
  [317,496940],[318.5,496650],[320,496620],[322,496890],[324,496940],[325.5,496650],[327,496610],[329,496890],
  [331,496930],[332.5,496660],[334,496620],[336,496900],[338,496940],[339.5,496660],[341,496620],[343,496890],
  [345,496930],[346.5,496650],[348,496610],[350,496890],[352,496930],[353.5,496660],[355,496620],[357,496890],
  [359,496930],[360.5,496650],[362,496610],[364,496890],[365,496930]
];

// ---------- figure ----------
const svg = d3.select('body').append('svg')
  .attr('width', W).attr('height', H)
  .attr('font-family', FONT);
const root = svg.append('g').attr('transform', `scale(${LAYOUT_SCALE})`);

const panels = [
  {
    letter: '(a)', letterPos: [38, 26], base: A_BASE, unit: DAY, xDom: A_XDOM, x0: 119, x1: 640,
    ticks: A_TICKS, tickLabels: A_TICK_LABELS, tickDx: 6, tickPad: 4, dateY: 755, red: A_RED,
    rows: [
      { title: 'Latitude (m)', titleX: 23, top: 26, bottom: 228, yDom: [6494910, 6498460],
        yTicks: [6495000, 6496000, 6497000, 6498000], track: aLatTrack, flat: aLatFlat },
      { title: 'Longitude (m)', titleX: 37, top: 272, bottom: 474, yDom: [496360, 497430],
        yTicks: [496400, 496600, 496800, 497000, 497200, 497400], track: aLonTrack, band: aLonBand, flat: aLonFlat },
      { title: 'Depth (m)', titleX: 47, top: 517, bottom: 716, yDom: [-23.45, 0.7],
        yTicks: [-20, -15, -10, -5, 0], track: aDepthTrack, band: aDepthBand }
    ]
  },
  {
    letter: '(b)', letterPos: [722, 22], base: B_BASE, unit: DAY, xDom: B_XDOM, x0: 792, x1: 1320,
    ticks: B_TICKS, tickLabels: B_TICK_LABELS, tickDx: 6, tickPad: 0, dateY: 757, red: B_RED,
    rows: [
      { title: 'Latitude (m)', titleX: 704, top: 24, bottom: 228, yDom: [6494203, 6498485],
        yTicks: [6495000, 6496000, 6497000, 6498000], track: bLatTrack, band: bLatBand, flat: bLatFlat },
      { title: 'Longitude (m)', titleX: 710, top: 272, bottom: 475, yDom: [496280, 498670],
        yTicks: [496500, 497000, 497500, 498000, 498500], track: bLonTrack, band: bLonBand, flat: bLonFlat },
      { title: 'Depth (m)', titleX: 722, top: 517, bottom: 721, yDom: [-80.1, 3.4],
        yTicks: [-60, -40, -20, 0], track: bDepthTrack, band: bDepthBand }
    ]
  },
  {
    letter: '(c)', letterPos: [52, 819], base: C_BASE, unit: HOUR, xDom: C_XDOM, x0: 119, x1: 640,
    ticks: C_TICKS, tickLabels: C_TICK_LABELS, tickDx: 0, tickPad: 0, dateY: 1562, red: null,
    rows: [
      { title: 'Latitude (m)', titleX: 36, top: 842, bottom: 1037, yDom: [6496031, 6496542],
        yTicks: [6496100, 6496200, 6496300, 6496400, 6496500], track: cLatTrack, flat: cLatFlat },
      { title: 'Longitude (m)', titleX: 42, top: 1083, bottom: 1283, yDom: [496539, 497119],
        yTicks: [496600, 496700, 496800, 496900, 497000, 497100], track: cLonTrack, flat: cLonFlat },
      { title: 'Depth (m)', titleX: 46, top: 1329, bottom: 1528, yDom: [-31.4, 1.53],
        yTicks: [-30, -20, -10, 0], track: cDepthTrack, band: cDepthBand, bandWidth: 3.4 }
    ]
  },
  {
    letter: '(d)', letterPos: [724, 839], base: D_BASE, unit: DAY, xDom: D_XDOM, x0: 788, x1: 1318,
    ticks: D_TICKS, tickLabels: D_TICK_LABELS, tickDx: 6, tickPad: 1, dateY: 1332, red: null,
    rows: [
      { title: 'Latitude (m)', titleX: 692, top: 839, bottom: 1040, yDom: [6494980, 6496778],
        yTicks: D_LAT_TICKS, yLabels: D_LAT_LABELS, band: dLatBand, bandDash: '0 3 0 5 0 2 0 4',
        spikes: dLatHigh.concat(dLatLow, dLatFringe) },
      { title: 'Longitude (m)', titleX: 696, top: 1083, bottom: 1288, yDom: [496318, 497421],
        yTicks: [496400, 496600, 496800, 497000, 497200, 497400], band: dLonBand, bandDash: '0 3 0 5 0 2 0 4',
        spikes: dLonHigh.concat(dLonLow, dLonFringe) }
    ]
  }
];

const numFmt = d3.format(',');

panels.forEach(p => {
  const t0 = Date.parse(p.base + 'Z');
  const T = v => new Date(t0 + v * p.unit);
  const x = d3.scaleUtc().domain(p.xDom.map(T)).range([p.x0, p.x1]);
  const tickDates = p.ticks.map(s => new Date(Date.parse(s + 'Z')));
  const X = d => x(T(d[0]));

  p.rows.forEach((r, i) => {
    const isBottom = i === p.rows.length - 1;
    const y = d3.scaleLinear().domain(r.yDom).range([r.bottom, r.top]);
    const g = root.append('g');

    // stems from scattered fixes back to the dense cloud
    if (r.spikes) {
      const core = r.band.filter(Boolean);
      const mid = t => { const b = d3.least(core, c => Math.abs(c[0] - t)); return (b[1] + b[2]) / 2; };
      g.append('g').selectAll('line').data(r.spikes).join('line')
        .attr('x1', X).attr('x2', X)
        .attr('y1', d => y(d[1])).attr('y2', d => y(mid(d[0])))
        .attr('stroke', LINE_GREY).attr('stroke-width', 0.8);
    }
    if (r.track) {
      const line = d3.line().defined(d => d !== null).x(X).y(d => y(d[1]));
      g.append('path').attr('d', line(r.track))
        .attr('fill', 'none').attr('stroke', LINE_GREY).attr('stroke-width', 0.8);
    }
    if (r.band) {
      const area = d3.area().defined(d => d !== null).x(X).y0(d => y(d[1])).y1(d => y(d[2]));
      g.append('path').attr('d', area(r.band))
        .attr('fill', '#000').attr('stroke', '#000').attr('stroke-width', r.bandWidth || 2.8)
        .attr('stroke-dasharray', r.bandDash || '0 3.5').attr('stroke-linecap', 'round');
    }
    if (r.flat) {
      g.append('g').selectAll('line').data(r.flat).join('line')
        .attr('x1', d => x(T(d[0]))).attr('x2', d => x(T(d[1])))
        .attr('y1', d => y(d[2])).attr('y2', d => y(d[2]))
        .attr('stroke', '#000').attr('stroke-width', 4.2).attr('stroke-linecap', 'round');
    }
    const dots = [].concat(r.track || [], r.spikes || []).filter(Boolean);
    g.append('g').selectAll('circle').data(dots).join('circle')
      .attr('cx', X).attr('cy', d => y(d[1])).attr('r', 1.9).attr('fill', '#000');

    if (p.red != null) {
      const rx = x(T(p.red));
      g.append('line').attr('x1', rx).attr('x2', rx)
        .attr('y1', r.top - 8).attr('y2', r.bottom - 1)
        .attr('stroke', RED).attr('stroke-width', 2);
    }

    // axes
    const yAxis = d3.axisLeft(y).tickValues(r.yTicks).tickSize(4).tickPadding(3).tickSizeOuter(0)
      .tickFormat((d, k) => r.yLabels ? r.yLabels[k] : numFmt(d));
    const gy = g.append('g').attr('transform', `translate(${p.x0},0)`).call(yAxis);
    const xAxis = d3.axisBottom(x).tickValues(tickDates).tickSize(4).tickPadding(p.tickPad).tickSizeOuter(0)
      .tickFormat((d, k) => isBottom ? p.tickLabels[k] : '');
    const gx = g.append('g').attr('transform', `translate(0,${r.bottom})`).call(xAxis);
    [gx, gy].forEach(a => {
      a.attr('font-family', FONT).attr('font-size', 16);
      a.select('.domain').attr('stroke', AXIS).attr('stroke-width', 1.3);
      a.selectAll('.tick line').attr('stroke', AXIS).attr('stroke-width', 1.3);
      a.selectAll('.tick text').attr('fill', TICK_TEXT);
    });
    gx.selectAll('.tick text').attr('dx', p.tickDx);

    root.append('text')
      .attr('transform', `translate(${r.titleX},${(r.top + r.bottom) / 2}) rotate(-90)`)
      .attr('text-anchor', 'middle').attr('font-weight', 'bold').attr('font-size', 21)
      .attr('fill', '#000').text(r.title);
  });

  root.append('text').attr('x', (p.x0 + p.x1) / 2).attr('y', p.dateY)
    .attr('text-anchor', 'middle').attr('font-weight', 'bold').attr('font-size', 21).text('Date');
  root.append('text').attr('x', p.letterPos[0]).attr('y', p.letterPos[1])
    .attr('font-weight', 'bold').attr('font-size', 21).text(p.letter);
});
</script>
</body>
</html>
